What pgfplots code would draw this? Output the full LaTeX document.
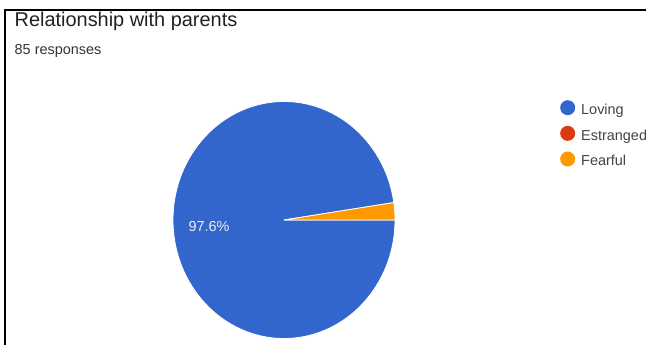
\documentclass[border=0pt]{standalone}
\usepackage{pgfplots}
\usepackage{pgfplotstable}
\pgfplotsset{compat=1.18}
\usepackage{fontspec}
\setmainfont{Liberation Sans}
\definecolor{lovingblue}{HTML}{3366CC}
\definecolor{estrangedred}{HTML}{DC3912}
\definecolor{fearfulorange}{HTML}{FF9900}
\definecolor{titlegray}{HTML}{212121}
\definecolor{subgray}{HTML}{333333}
\definecolor{leggray}{HTML}{444444}

\pgfplotstableread{
label value
Loving 83
Estranged 0
Fearful 2
}\piedata

\begin{document}
\begin{tikzpicture}
\pgfplotstablegetelem{0}{value}\of\piedata \let\vL\pgfplotsretval
\pgfplotstablegetelem{1}{value}\of\piedata \let\vE\pgfplotsretval
\pgfplotstablegetelem{2}{value}\of\piedata \let\vF\pgfplotsretval
\pgfmathsetmacro{\tot}{\vL+\vE+\vF}
\pgfmathsetmacro{\aF}{360*\vF/\tot}
\pgfmathsetmacro{\aE}{\aF+360*\vE/\tot}
\pgfmathsetmacro{\pL}{100*\vL/\tot}
\begin{axis}[
  scale only axis, width=646bp, height=345bp,
  xmin=0, xmax=646, ymin=0, ymax=345, y dir=reverse,
  hide axis, clip=false,
  legend style={at={(axis cs:557,98)}, anchor=north west, draw=none, fill=none,
    font=\fontsize{14.5}{16}\selectfont, text=leggray,
    nodes={inner sep=0pt, text height=10.5bp, text depth=3bp},
    row sep=8.4bp, column sep=6bp},
  legend cell align=left,
]
\addlegendimage{draw=none, fill=lovingblue, legend image code/.code={\fill[lovingblue] (0bp,3bp) circle (7.5bp);}}
\addlegendentry{Loving}
\addlegendimage{draw=none, fill=estrangedred, legend image code/.code={\fill[estrangedred] (0bp,3bp) circle (7.5bp);}}
\addlegendentry{Estranged}
\addlegendimage{draw=none, fill=fearfulorange, legend image code/.code={\fill[fearfulorange] (0bp,3bp) circle (7.5bp);}}
\addlegendentry{Fearful}

% pie slices from the table values
\fill[lovingblue, draw=white, line width=0.8bp] (axis cs:284,220) -- ++(\aE:111bp and 118.5bp)
  arc[start angle=\aE, end angle=360, x radius=111bp, y radius=118.5bp] -- cycle;
\fill[fearfulorange, draw=white, line width=0.8bp] (axis cs:284,220) -- ++(0:111bp and 118.5bp)
  arc[start angle=0, end angle=\aF, x radius=111bp, y radius=118.5bp] -- cycle;

\node[text=white!93!black, font=\fontsize{14.5}{16}\selectfont, anchor=center] at (axis cs:209,226.5)
  {\pgfmathprintnumber[fixed, precision=1, fixed zerofill, assume math mode=true]{\pL}\%};

% titles
\node[anchor=base west, inner sep=0pt, text=titlegray, font=\fontsize{20}{24}\selectfont] at (axis cs:14.5,27) {Relationship with parents};
\node[anchor=base west, inner sep=0pt, text=subgray, font=\fontsize{14.5}{17}\selectfont] at (axis cs:14.5,54) {85 responses};

% frame lines
\draw[line width=2.5bp, black] (axis cs:5,345) -- (axis cs:5,10) -- (axis cs:646,10);
\end{axis}
\pgfresetboundingbox
\path[use as bounding box] (current axis.south west) rectangle (current axis.north east);
\end{tikzpicture}
\end{document}
